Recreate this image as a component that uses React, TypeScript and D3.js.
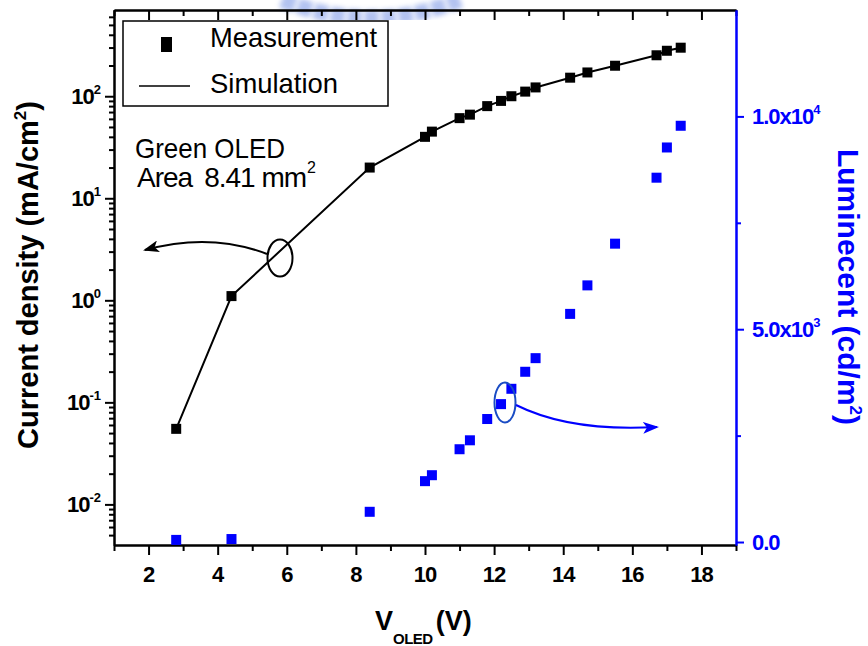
import React, { useRef, useEffect } from "react";
import * as d3 from "d3";

// values
const voltage = [2.8, 4.4, 8.4, 10.0, 10.2, 11.0, 11.3, 11.8, 12.2, 12.5, 12.9, 13.2, 14.2, 14.7, 15.5, 16.7, 17.0, 17.4];
const currentDensity = [0.055, 1.1, 20, 40, 45, 61, 66, 80, 90, 100, 111, 122, 152, 171, 199, 252, 279, 299];
const luminance = [50, 70, 710, 1430, 1570, 2180, 2390, 2890, 3240, 3600, 4000, 4320, 5360, 6030, 7010, 8560, 9270, 9780];

const xMajorTicks = [2, 4, 6, 8, 10, 12, 14, 16, 18];
const xMinorTicks = [1, 3, 5, 7, 9, 11, 13, 15, 17, 19];
const leftMajorTicks = [0.01, 0.1, 1, 10, 100];
const leftExponents = ["-2", "-1", "0", "1", "2"];
const rightMajorTicks = [0, 5000, 10000];
const rightTickBase = ["0.0", "5.0x10", "1.0x10"];
const rightTickExp = ["", "3", "4"];
const rightMinorTicks = [2500, 7500];

const FONT = "'Liberation Sans', Arial, Helvetica, sans-serif";
const BLUE = "#0000ff";

const App = () => {
  const svgRef = useRef<SVGSVGElement>(null);

  useEffect(() => {
    const svg = d3.select(svgRef.current);
    svg.selectAll("*").remove();

    const left = 114, right = 736, top = 10, bottom = 545;

    const x = d3.scaleLinear().domain([1, 19]).range([left, right]);
    const yL = d3.scaleLog().domain([0.004, 700]).range([bottom, top]);
    const yR = d3.scaleLinear().domain([-70, 12500]).range([bottom, top]);

    // faint watermark at the top
    const defs = svg.append("defs");
    defs.append("filter").attr("id", "blur").append("feGaussianBlur").attr("stdDeviation", 2.5);
    svg.append("path")
      .attr("d", "M282,0 Q370,36 460,0")
      .attr("fill", "none")
      .attr("stroke", "#93a9ea")
      .attr("stroke-width", 16)
      .attr("stroke-dasharray", "14 3")
      .attr("opacity", 0.7)
      .attr("filter", "url(#blur)");

    const addAxis = (axis: any, transform: string, color: string) => {
      const g = svg.append("g").attr("transform", transform).call(axis);
      g.select(".domain").attr("stroke", color).attr("stroke-width", 2);
      g.selectAll(".tick line").attr("stroke", color).attr("stroke-width", 2);
      g.selectAll(".tick text").remove();
      return g;
    };

    // minor ticks for the log axis (2..9 per decade)
    const logMinor: number[] = [];
    for (let e = -3; e <= 2; e++) {
      for (let m = 2; m <= 9; m++) {
        const v = m * Math.pow(10, e);
        if (v > 0.004 && v < 700) logMinor.push(v);
      }
    }

    // bottom and top axes
    addAxis(d3.axisBottom(x).tickValues(xMajorTicks).tickSize(10).tickSizeOuter(0), `translate(0,${bottom})`, "#000");
    addAxis(d3.axisBottom(x).tickValues(xMinorTicks).tickSize(6).tickSizeOuter(0), `translate(0,${bottom})`, "#000");
    addAxis(d3.axisBottom(x).tickValues(xMajorTicks).tickSize(10).tickSizeOuter(0), `translate(0,${top})`, "#000");
    addAxis(d3.axisBottom(x).tickValues(xMinorTicks).tickSize(6).tickSizeOuter(0), `translate(0,${top})`, "#000");

    // left log axis
    addAxis(d3.axisLeft(yL).tickValues(leftMajorTicks).tickSize(9).tickSizeOuter(0), `translate(${left},0)`, "#000");
    addAxis(d3.axisLeft(yL).tickValues(logMinor).tickSize(5).tickSizeOuter(0), `translate(${left},0)`, "#000");

    // right linear axis (blue)
    addAxis(d3.axisRight(yR).tickValues(rightMajorTicks).tickSize(8).tickSizeOuter(0), `translate(${right},0)`, BLUE);
    addAxis(d3.axisRight(yR).tickValues(rightMinorTicks).tickSize(5).tickSizeOuter(0), `translate(${right},0)`, BLUE);

    const labels = svg.append("g")
      .attr("font-family", FONT)
      .attr("font-weight", "bold")
      .attr("font-size", 22)
      .attr("letter-spacing", -1);

    labels.selectAll(".xl")
      .data(xMajorTicks)
      .join("text")
      .attr("x", (d) => x(d))
      .attr("y", 582)
      .attr("text-anchor", "middle")
      .text((d) => d);

    const ll = labels.selectAll(".ll")
      .data(leftMajorTicks)
      .join("text")
      .attr("x", 101)
      .attr("y", (d) => yL(d) + 8)
      .attr("text-anchor", "end");
    ll.append("tspan").text("10");
    ll.append("tspan")
      .attr("font-size", 13)
      .attr("dy", -10)
      .attr("letter-spacing", 0)
      .text((d, i) => leftExponents[i]);

    const rl = labels.selectAll(".rl")
      .data(rightMajorTicks)
      .join("text")
      .attr("x", 752)
      .attr("y", (d) => yR(d) + 8)
      .attr("fill", BLUE);
    rl.append("tspan").text((d, i) => rightTickBase[i]);
    rl.append("tspan")
      .attr("font-size", 13)
      .attr("dy", -10)
      .attr("letter-spacing", 0)
      .text((d, i) => rightTickExp[i]);

    // axis titles
    const lt = svg.append("text")
      .attr("transform", "translate(38,275) rotate(-90)")
      .attr("text-anchor", "middle")
      .attr("font-family", FONT)
      .attr("font-weight", "bold")
      .attr("font-size", 29);
    lt.append("tspan").text("Current density (mA/cm");
    lt.append("tspan").attr("font-size", 17).attr("dy", -12).text("2");
    lt.append("tspan").attr("dy", 12).text(")");

    const rt = svg.append("text")
      .attr("transform", "translate(838,287) rotate(90)")
      .attr("text-anchor", "middle")
      .attr("font-family", FONT)
      .attr("font-weight", "bold")
      .attr("font-size", 30)
      .attr("fill", BLUE);
    rt.append("tspan").text("Luminecent (cd/m");
    rt.append("tspan").attr("font-size", 17).attr("dy", -12).text("2");
    rt.append("tspan").attr("dy", 12).text(")");

    const xt = svg.append("text")
      .attr("x", 375)
      .attr("y", 630)
      .attr("font-family", FONT)
      .attr("font-weight", "bold")
      .attr("font-size", 27);
    xt.append("tspan").text("V");
    xt.append("tspan").attr("font-size", 15).attr("dy", 14).attr("letter-spacing", -0.5).text("OLED");
    xt.append("tspan").attr("dy", -14).attr("dx", 3).text("(V)");

    // simulation line + measurement markers
    const line = d3.line<number>()
      .x((d, i) => x(voltage[i]))
      .y((d) => yL(d));

    svg.append("path")
      .datum(currentDensity)
      .attr("d", line)
      .attr("fill", "none")
      .attr("stroke", "#000")
      .attr("stroke-width", 2);

    svg.append("g")
      .selectAll("rect")
      .data(currentDensity)
      .join("rect")
      .attr("x", (d, i) => x(voltage[i]) - 5)
      .attr("y", (d) => yL(d) - 5)
      .attr("width", 10)
      .attr("height", 10)
      .attr("fill", "#000");

    svg.append("g")
      .selectAll("rect")
      .data(luminance)
      .join("rect")
      .attr("x", (d, i) => x(voltage[i]) - 5)
      .attr("y", (d) => yR(d) - 5)
      .attr("width", 10)
      .attr("height", 10)
      .attr("fill", BLUE);

    // annotations
    const arrowHead = (id: string, color: string) => {
      defs.append("marker")
        .attr("id", id)
        .attr("viewBox", "0 0 16 12")
        .attr("refX", 14).attr("refY", 6)
        .attr("markerWidth", 16).attr("markerHeight", 12)
        .attr("markerUnits", "userSpaceOnUse")
        .attr("orient", "auto")
        .append("path").attr("d", "M0,0 L16,6 L0,12 L4,6 Z").attr("fill", color);
    };
    arrowHead("arrowK", "#000");
    arrowHead("arrowB", BLUE);

    svg.append("ellipse")
      .attr("cx", 280).attr("cy", 258).attr("rx", 12.5).attr("ry", 18.5)
      .attr("fill", "none").attr("stroke", "#000").attr("stroke-width", 2);
    svg.append("path")
      .attr("d", "M267,254 Q210,232 145,250")
      .attr("fill", "none").attr("stroke", "#000").attr("stroke-width", 2)
      .attr("marker-end", "url(#arrowK)");

    svg.append("ellipse")
      .attr("cx", 505).attr("cy", 402.5).attr("rx", 10.5).attr("ry", 20)
      .attr("fill", "none").attr("stroke", "#1a4cc4").attr("stroke-width", 2);
    svg.append("path")
      .attr("d", "M516,405 Q570,432 657,427")
      .attr("fill", "none").attr("stroke", BLUE).attr("stroke-width", 2)
      .attr("marker-end", "url(#arrowB)");

    // legend
    const lg = svg.append("g").attr("font-family", FONT).attr("font-size", 28);
    lg.append("rect")
      .attr("x", 123).attr("y", 21).attr("width", 265).attr("height", 85)
      .attr("fill", "#fff").attr("stroke", "#000").attr("stroke-width", 1.5);
    lg.append("rect").attr("x", 161).attr("y", 37).attr("width", 11).attr("height", 15).attr("fill", "#000");
    lg.append("text").attr("x", 210).attr("y", 47).attr("textLength", 167).attr("lengthAdjust", "spacingAndGlyphs").text("Measurement");
    lg.append("line").attr("x1", 139).attr("x2", 190).attr("y1", 86).attr("y2", 86).attr("stroke", "#000").attr("stroke-width", 1.5);
    lg.append("text").attr("x", 210).attr("y", 93).attr("textLength", 128).attr("lengthAdjust", "spacingAndGlyphs").text("Simulation");

    // device note
    const note = svg.append("g").attr("font-family", FONT).attr("font-size", 28);
    note.append("text").attr("x", 135).attr("y", 158).attr("textLength", 150).attr("lengthAdjust", "spacingAndGlyphs").text("Green OLED");
    const area = note.append("text").attr("x", 137).attr("y", 187).attr("letter-spacing", -1);
    area.append("tspan").text("Area");
    area.append("tspan").attr("dx", 12).text("8.41 mm");
    area.append("tspan").attr("font-size", 16).attr("dy", -14).attr("dx", 1).text("2");
  }, []);

  return (
    <svg
      ref={svgRef}
      width={868}
      height={646}
      style={{ position: "absolute", left: 0, top: 0, background: "#fff" }}
    ></svg>
  );
};

export default App;
